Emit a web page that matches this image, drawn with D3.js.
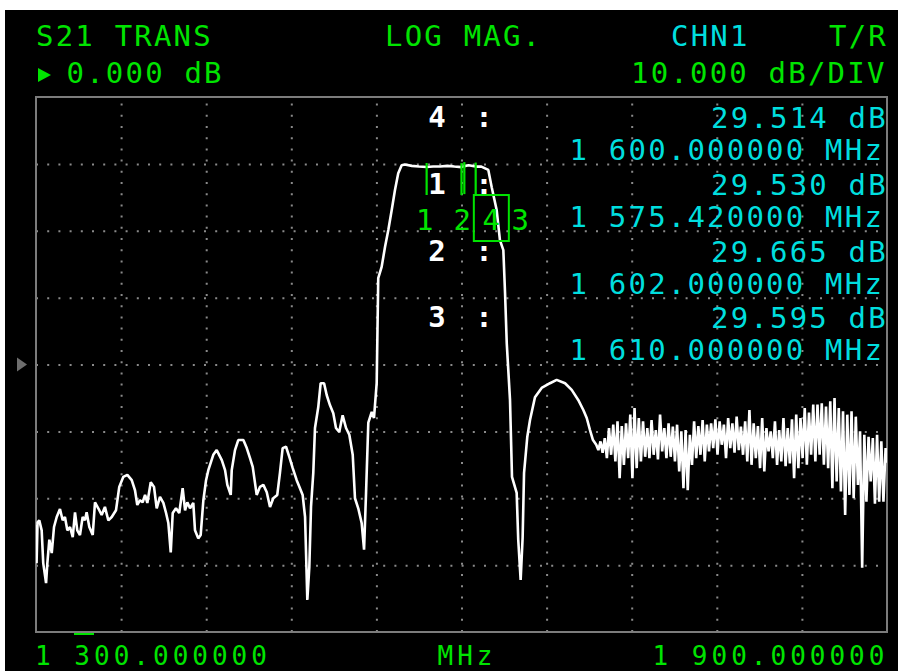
<!DOCTYPE html>
<html>
<head>
<meta charset="utf-8">
<script src="https://cdn.jsdelivr.net/npm/d3@7"></script>
<style>
  html, body { margin: 0; padding: 0; background: #ffffff; }
  svg { display: block; }
  text { font-family: "DejaVu Sans Mono", "Liberation Mono", monospace; }
</style>
</head>
<body>
<svg id="chart" width="898" height="671"></svg>
<script>
// ---------------- data ----------------
const freqDomain = [1300, 1900];          // MHz
const dbDomain = [-40, 40];               // dB (10 dB/div, ref 0 dB at centre)
const freqGridTicks = [1360, 1420, 1480, 1540, 1600, 1660, 1720, 1780, 1840];
const dbGridTicks = [30, 20, 10, 0, -10, -20, -30];

const headerLeft = ["S21 TRANS", "LOG MAG.", "CHN1", "T/R"];
const headerRow2 = ["0.000 dB", "10.000 dB/DIV"];
const footerLabels = ["1 300.000000", "MHz", "1 900.000000"];

const markerIds   = ["4", "1", "2", "3"];
const markerFreqs = [1600.0, 1575.42, 1602.0, 1610.0];
const markerDb    = [29.514, 29.530, 29.665, 29.595];
const activeMarker = "4";
const markerLabelOrder = ["1", "2", "4", "3"];

// S21 trace: [frequency MHz, magnitude dB]
const trace = [
 [1300.0,-24.0],[1300.4,-29.7],[1301.1,-23.6],[1302.3,-23.3],[1304.0,-24.8],[1305.1,-29.7],[1307.1,-32.7],[1308.0,-29.7],
 [1309.4,-26.2],[1311.1,-28.2],[1312.7,-24.3],[1314.6,-22.8],[1316.9,-21.6],[1318.8,-23.3],[1320.4,-22.8],[1322.1,-24.8],
 [1324.0,-24.3],[1325.9,-25.8],[1327.5,-22.1],[1329.1,-24.8],[1331.0,-25.5],[1332.9,-22.8],[1334.5,-23.3],[1335.7,-22.1],
 [1337.6,-24.3],[1340.0,-25.5],[1341.6,-20.6],[1343.9,-21.5],[1346.3,-22.5],[1348.6,-21.3],[1351.0,-23.3],[1353.4,-22.8],
 [1356.4,-21.8],[1358.7,-18.3],[1361.6,-16.8],[1364.4,-16.5],[1367.5,-17.3],[1369.8,-18.8],[1371.4,-21.0],[1373.3,-20.3],
 [1375.2,-20.6],[1376.9,-19.5],[1378.5,-20.7],[1380.9,-17.6],[1383.2,-18.3],[1385.1,-21.5],[1387.4,-19.8],[1389.8,-20.7],
 [1391.7,-22.2],[1393.3,-23.7],[1395.0,-28.1],[1396.4,-22.2],[1398.7,-21.5],[1401.0,-22.2],[1403.4,-18.5],[1405.1,-21.8],
 [1406.7,-20.6],[1408.6,-21.5],[1410.9,-20.7],[1412.1,-24.8],[1414.4,-26.0],[1416.1,-25.5],[1418.0,-20.3],[1419.9,-17.3],
 [1421.5,-15.8],[1425.0,-13.5],[1427.4,-12.8],[1431.0,-14.3],[1433.3,-15.8],[1434.9,-18.0],[1437.3,-19.5],[1438.0,-15.8],
 [1440.3,-12.8],[1442.6,-11.3],[1446.2,-11.3],[1448.6,-12.5],[1450.9,-14.0],[1452.8,-15.3],[1454.4,-17.7],[1455.6,-19.5],
 [1457.9,-18.3],[1460.3,-18.0],[1462.7,-19.1],[1465.0,-21.3],[1467.3,-20.0],[1470.1,-19.5],[1472.0,-16.2],[1473.9,-12.5],
 [1476.3,-12.3],[1478.6,-13.8],[1481.0,-15.5],[1483.8,-17.3],[1486.1,-18.5],[1488.0,-19.5],[1489.7,-22.8],[1491.3,-35.2],
 [1492.7,-30.3],[1493.9,-21.3],[1495.5,-16.2],[1496.7,-9.5],[1499.0,-6.4],[1500.7,-2.8],[1503.1,-2.8],[1505.0,-4.6],
 [1507.3,-6.1],[1509.6,-7.3],[1511.5,-9.5],[1513.8,-10.1],[1516.2,-7.6],[1518.6,-9.5],[1520.9,-10.5],[1523.3,-13.5],
 [1524.9,-20.0],[1527.2,-21.5],[1529.6,-23.7],[1531.3,-27.7],[1532.7,-19.2],[1534.3,-8.7],[1536.7,-7.1],[1538.3,-8.0],
 [1540.2,-2.8],[1541.3,12.9],[1543.7,14.6],[1546.1,17.6],[1548.4,20.1],[1550.8,23.1],[1553.1,26.1],[1555.4,28.6],
 [1557.8,29.8],[1560.0,29.9],[1565.0,29.7],[1570.0,29.6],[1575.42,29.53],[1580.0,29.6],[1585.0,29.6],[1590.0,29.7],
 [1595.0,29.6],[1600.0,29.514],[1602.0,29.665],[1605.0,29.8],[1610.0,29.595],[1614.0,29.6],[1618.9,29.1],[1621.3,26.5],
 [1624.8,23.1],[1627.1,18.6],[1629.5,17.1],[1630.7,10.7],[1631.9,3.2],[1634.2,-5.3],[1635.6,-16.8],[1638.9,-19.2],
 [1640.0,-26.2],[1641.7,-32.2],[1643.1,-25.9],[1644.1,-16.2],[1646.4,-10.8],[1648.3,-8.3],[1651.8,-4.9],[1656.5,-3.5],
 [1662.4,-2.8],[1667.1,-2.3],[1673.0,-2.8],[1677.7,-3.8],[1682.3,-5.3],[1685.9,-6.8],[1688.3,-8.0],[1690.6,-9.8],
 [1692.7,-11.3],
 [1695.0,-12.0],[1696.5,-12.8],[1698.0,-11.5],[1699.5,-13.2],[1701.0,-11.0],[1702.5,-14.0],[1704.0,-9.5],[1705.5,-13.5],
 [1707.0,-9.0],[1708.5,-14.5],[1710.0,-8.5],[1711.5,-17.0],[1713.0,-9.2],[1714.5,-15.0],[1716.0,-8.8],[1717.5,-14.0],
 [1719.0,-7.5],[1720.5,-17.0],[1722.0,-6.5],[1723.5,-15.5],[1725.0,-8.0],[1726.5,-14.5],[1728.0,-8.5],[1729.5,-13.8],
 [1731.0,-9.5],[1732.5,-14.0],[1734.0,-8.3],[1735.5,-13.5],[1737.0,-9.8],[1738.5,-14.2],[1740.0,-7.5],[1741.5,-13.0],
 [1743.0,-9.5],[1744.5,-14.0],[1746.0,-8.8],[1747.5,-13.8],[1749.0,-9.3],[1750.5,-14.5],[1752.0,-9.0],[1753.5,-16.0],
 [1755.0,-10.0],[1756.5,-18.5],[1758.0,-9.8],[1759.5,-18.8],[1761.0,-10.5],[1762.5,-15.0],[1764.0,-8.5],[1765.5,-14.0],
 [1767.0,-9.2],[1768.5,-13.5],[1770.0,-8.3],[1771.5,-14.5],[1773.0,-9.0],[1774.5,-13.0],[1776.0,-8.8],[1777.5,-12.5],
 [1779.0,-8.2],[1780.5,-13.5],[1782.0,-8.5],[1783.5,-12.0],[1785.0,-9.0],[1786.5,-14.0],[1788.0,-8.0],[1789.5,-12.5],
 [1791.0,-8.8],[1792.5,-13.2],[1794.0,-7.8],[1795.5,-12.8],[1797.0,-9.3],[1798.5,-13.5],[1800.0,-8.5],[1801.5,-14.5],
 [1803.0,-6.8],[1804.5,-15.0],[1806.0,-8.8],[1807.5,-14.0],[1809.0,-9.2],[1810.5,-15.5],[1812.0,-8.0],[1813.5,-16.0],
 [1815.0,-9.5],[1816.5,-13.0],[1818.0,-10.0],[1819.5,-14.0],[1821.0,-8.5],[1822.5,-15.0],[1824.0,-9.8],[1825.5,-14.5],
 [1827.0,-8.0],[1828.5,-15.2],[1830.0,-9.5],[1831.5,-14.8],[1833.0,-8.2],[1834.5,-17.0],[1836.0,-7.5],[1837.5,-15.5],
 [1839.0,-8.0],[1840.5,-14.0],[1842.0,-6.5],[1843.5,-15.0],[1845.0,-7.2],[1846.5,-13.5],[1848.0,-6.0],[1849.5,-14.5],
 [1851.0,-6.0],[1852.5,-13.5],[1854.0,-5.8],[1855.5,-15.0],[1857.0,-6.3],[1858.5,-15.5],[1860.0,-5.5],[1861.5,-18.5],
 [1863.0,-5.0],[1864.5,-17.5],[1866.0,-6.5],[1867.5,-19.0],[1869.0,-7.0],[1870.5,-22.5],[1872.0,-7.5],[1873.5,-19.5],
 [1875.0,-7.0],[1876.5,-20.0],[1878.0,-7.8],[1879.5,-18.0],[1881.0,-10.0],[1882.5,-30.4],[1884.0,-10.5],[1885.5,-20.5],
 [1887.0,-10.8],[1888.5,-17.5],[1890.0,-11.0],[1891.5,-20.8],[1893.0,-10.5],[1894.5,-20.5],[1896.0,-11.5],[1897.5,-20.5],
 [1899.0,-12.5],[1900.0,-14.7]
];

// ---------------- drawing ----------------
const W = 898, H = 671;
const plot = { left: 36, right: 887, top: 97, bottom: 632 };
const GREEN = "#00e400", CYAN = "#00dede", GRID = "#8a8a8a", FRAME = "#7c7c7c";
const FS = 29, LS = 2.2;

const svg = d3.select("#chart");
svg.append("rect").attr("x", 0).attr("y", 0).attr("width", W).attr("height", H).attr("fill", "#ffffff");
svg.append("rect").attr("x", 5).attr("y", 10).attr("width", W - 5).attr("height", H - 10).attr("fill", "#000000");

const x = d3.scaleLinear().domain(freqDomain).range([plot.left, plot.right]);
const y = d3.scaleLinear().domain(dbDomain).range([plot.bottom, plot.top]);

// grid through axes
const gx = svg.append("g").attr("transform", `translate(0,${plot.bottom})`)
  .call(d3.axisBottom(x).tickValues(freqGridTicks).tickSize(-(plot.bottom - plot.top)).tickFormat(""));
const gy = svg.append("g").attr("transform", `translate(${plot.left},0)`)
  .call(d3.axisLeft(y).tickValues(dbGridTicks).tickSize(-(plot.right - plot.left)).tickFormat(""));
[gx, gy].forEach(g => {
  g.select(".domain").remove();
  g.selectAll(".tick line").attr("stroke", GRID).attr("stroke-width", 2).attr("stroke-dasharray", "2 9.2");
});

// frame
svg.append("rect").attr("x", plot.left).attr("y", plot.top)
  .attr("width", plot.right - plot.left).attr("height", plot.bottom - plot.top)
  .attr("fill", "none").attr("stroke", FRAME).attr("stroke-width", 2);

// reference position triangle (0 dB)
svg.append("path")
  .attr("d", `M17,${y(0) - 7} L27,${y(0)} L17,${y(0) + 7} Z`)
  .attr("fill", "#6e6e6e");

// clip
svg.append("clipPath").attr("id", "clip").append("rect")
  .attr("x", plot.left).attr("y", plot.top)
  .attr("width", plot.right - plot.left).attr("height", plot.bottom - plot.top);

// trace
const line = d3.line().x(d => x(d[0])).y(d => y(d[1]));
svg.append("path").datum(trace)
  .attr("clip-path", "url(#clip)")
  .attr("d", line)
  .attr("fill", "none").attr("stroke", "#ffffff").attr("stroke-width", 2.6)
  .attr("stroke-linejoin", "bevel");

// header
function txt(str, px, py, color, opts = {}) {
  const t = svg.append("text").attr("x", px).attr("y", py).text(str)
    .attr("fill", color).attr("font-size", opts.size || FS)
    .attr("letter-spacing", opts.ls === undefined ? LS : opts.ls);
  if (opts.anchor) t.attr("text-anchor", opts.anchor);
  if (opts.weight) t.attr("font-weight", opts.weight);
  return t;
}
txt(headerLeft[0], 36, 46, GREEN);
txt(headerLeft[1], 385, 46, GREEN);
txt(headerLeft[2], 671, 46, CYAN);
txt(headerLeft[3], 829, 46, GREEN);
svg.append("path").attr("d", "M38,68 L38,82 L51,75 Z").attr("fill", GREEN);
txt(headerRow2[0], 66.5, 83, GREEN);
txt(headerRow2[1], 631, 83, GREEN);

// footer (slightly smaller box so it stays inside the picture)
const FFS = 26, FLS = 19.66 - 26 * 0.602;
txt(footerLabels[0], 35, 665, GREEN, { size: FFS, ls: FLS });
txt(footerLabels[1], 437.5, 665, GREEN, { size: FFS, ls: FLS });
txt(footerLabels[2], 652.5, 665, GREEN, { size: FFS, ls: FLS });
svg.append("line").attr("x1", 74).attr("x2", 94).attr("y1", 634).attr("y2", 634)
  .attr("stroke", GREEN).attr("stroke-width", 2);

// marker readouts
const fmtDb = d3.format(".3f");
function fmtFreq(f) {
  const k = Math.floor(f / 1000);
  const rest = (f - k * 1000).toFixed(6).padStart(10, "0");
  return `${k} ${rest} MHz`;
}
markerIds.forEach((id, i) => {
  const rowY = 127 + i * 66.8;
  txt(id, 437, rowY, "#ffffff", { anchor: "middle", weight: "bold", ls: 0 });
  txt(":", 484, rowY, "#ffffff", { anchor: "middle", weight: "bold", ls: 0 });
  txt(`${fmtDb(markerDb[i])} dB`, 711, rowY + 1, CYAN);
  txt(fmtFreq(markerFreqs[i]), 569.5, rowY + 33, CYAN);
});

// marker indicators on trace
markerIds.forEach((id, i) => {
  const mx = x(markerFreqs[i]), my = y(markerDb[i]);
  svg.append("line").attr("x1", mx).attr("x2", mx).attr("y1", my - 4).attr("y2", my + 28)
    .attr("stroke", GREEN).attr("stroke-width", 2.2);
});
let prevX = -Infinity;
const labelBase = y(markerDb[1]) + 63;
markerLabelOrder.forEach(id => {
  const i = markerIds.indexOf(id);
  let lx = Math.max(x(markerFreqs[i]) - 2, prevX + 29);
  prevX = lx;
  txt(id, lx, labelBase, GREEN, { anchor: "middle", ls: 0 });
  if (id === activeMarker) {
    svg.append("rect").attr("x", lx - 17.5).attr("y", labelBase - 35)
      .attr("width", 35).attr("height", 46)
      .attr("fill", "none").attr("stroke", GREEN).attr("stroke-width", 2);
  }
});
</script>
</body>
</html>
